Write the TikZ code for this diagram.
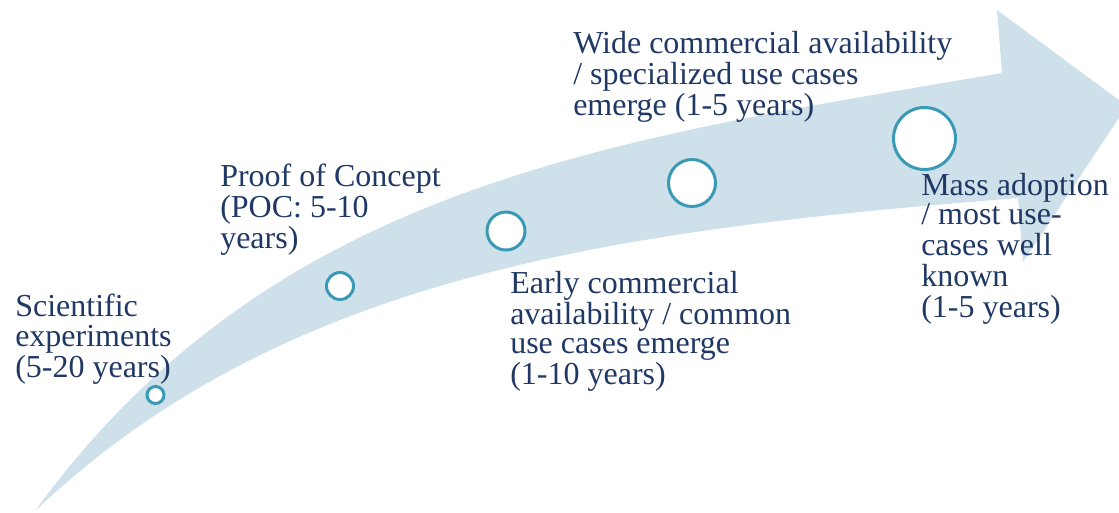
\documentclass[tikz,border=0pt]{standalone}
\usepackage{fontspec}
\setmainfont{Liberation Serif}
\definecolor{arrowfill}{HTML}{CEE0EA}
\definecolor{ringcol}{HTML}{3A9AB5}
\definecolor{textcol}{HTML}{1F3864}
\newcommand{\lbltext}[1]{\begin{tabular}[t]{@{}l@{}}#1\end{tabular}}
\begin{document}
\begin{tikzpicture}[x=0.75pt,y=-0.75pt,
  ring/.style={circle,draw=ringcol,fill=white,line width=2.25pt,inner sep=0pt},
  lbl/.style={anchor=base west,inner sep=0pt,text=textcol,font=\fontsize{24}{22}\selectfont}]
\useasboundingbox (0,0) rectangle (1119,512);
\clip (0,0) rectangle (1119,512);
% big curved arrow
\coordinate (tail) at (35,511);
\coordinate (unotch) at (1002,73);
\coordinate (ubarb) at (997,10);
\coordinate (tip) at (1127,106);
\coordinate (lbarb) at (1023,262);
\coordinate (lnotch) at (1018,198);
\fill[arrowfill] (tail) .. controls (272,186) and (602,141) .. (unotch)
  -- (ubarb) -- (tip) -- (lbarb) -- (lnotch)
  .. controls (618,230) and (285,273.5) .. (tail) -- cycle;
% milestones
\node[ring,minimum size=12.75pt] (c1) at (155.5,395) {};
\node[ring,minimum size=20.25pt] (c2) at (340,286) {};
\node[ring,minimum size=28.5pt] (c3) at (506,231) {};
\node[ring,minimum size=35.25pt] (c4) at (692,183) {};
\node[ring,minimum size=46.5pt] (c5) at (924.5,138.5) {};
% labels
\node[lbl] (t1) at (15,316) {\lbltext{Scientific\\experiments\\(5-20 years)}};
\node[lbl] (t2) at (220,186) {\lbltext{Proof of Concept\\(POC: 5-10\\years)}};
\node[lbl] (t3) at (510,293) {\lbltext{Early commercial\\availability / common\\use cases emerge\\(1-10 years)}};
\node[lbl] (t4) at (573,53) {\lbltext{Wide commercial availability\\/ specialized use cases\\emerge (1-5 years)}};
\node[lbl] (t5) at (921,195) {\lbltext{Mass adoption\\/ most use-\\cases well\\known\\(1-5 years)}};
\end{tikzpicture}
\end{document}
